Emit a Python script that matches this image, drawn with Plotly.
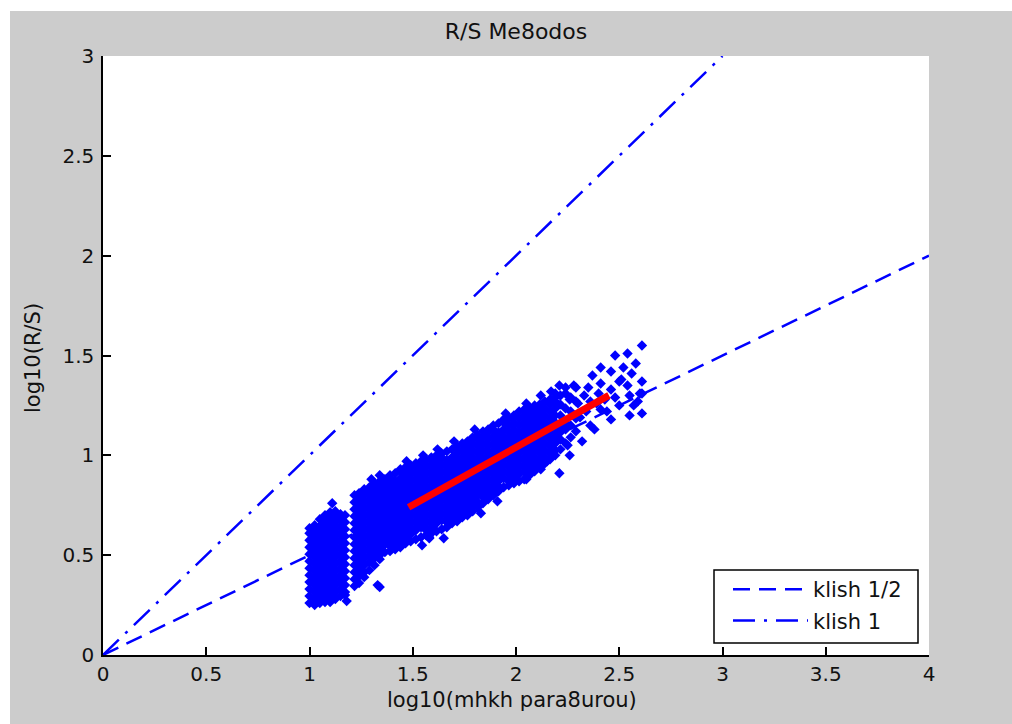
import plotly.graph_objects as go

# ---------------- data ----------------
title_text = "R/S Me8odos"
xlabel = "log10(mhkh para8urou)"
ylabel = "log10(R/S)"

x_ticks = [0, 0.5, 1, 1.5, 2, 2.5, 3, 3.5, 4]
y_ticks = [0, 0.5, 1, 1.5, 2, 2.5, 3]

# dense cloud of log10(R/S) values, grouped by log10(window length)
col_x = [1.000, 1.025, 1.050, 1.075, 1.100, 1.125, 1.150, 1.172,
         1.218, 1.240, 1.265, 1.290, 1.315, 1.340, 1.365, 1.390, 1.415, 1.440,
         1.465, 1.490, 1.515, 1.540, 1.565, 1.590, 1.615, 1.640, 1.665, 1.690,
         1.715, 1.740, 1.765, 1.790, 1.815, 1.840, 1.865, 1.890, 1.915, 1.940,
         1.965, 1.990, 2.015, 2.040, 2.065, 2.090, 2.115, 2.140, 2.165, 2.190,
         2.215, 2.240, 2.265, 2.290]
col_y = [
    [0.26, 0.295, 0.33, 0.365, 0.40, 0.435, 0.47, 0.505, 0.54, 0.575, 0.61, 0.635],
    [0.25, 0.28, 0.315, 0.35, 0.385, 0.42, 0.455, 0.49, 0.525, 0.56, 0.595, 0.63, 0.65],
    [0.26, 0.295, 0.33, 0.365, 0.40, 0.435, 0.47, 0.505, 0.54, 0.575, 0.61, 0.645, 0.68],
    [0.265, 0.28, 0.315, 0.35, 0.385, 0.42, 0.455, 0.49, 0.525, 0.56, 0.595, 0.63, 0.665, 0.70],
    [0.265, 0.295, 0.33, 0.365, 0.40, 0.435, 0.47, 0.505, 0.54, 0.575, 0.61, 0.645, 0.68, 0.715],
    [0.28, 0.315, 0.35, 0.385, 0.42, 0.455, 0.49, 0.525, 0.56, 0.595, 0.63, 0.665, 0.70, 0.72],
    [0.295, 0.33, 0.365, 0.40, 0.435, 0.47, 0.505, 0.54, 0.575, 0.61, 0.645, 0.68, 0.705],
    [0.30, 0.315, 0.35, 0.385, 0.42, 0.455, 0.49, 0.525, 0.56, 0.595, 0.63, 0.665, 0.70],
    [0.345, 0.38, 0.415, 0.45, 0.485, 0.52, 0.555, 0.59, 0.625, 0.66, 0.695, 0.73, 0.765, 0.80],
    [0.36, 0.395, 0.43, 0.465, 0.50, 0.535, 0.57, 0.605, 0.64, 0.675, 0.71, 0.745, 0.78, 0.81],
    [0.39, 0.415, 0.45, 0.485, 0.52, 0.555, 0.59, 0.625, 0.66, 0.695, 0.73, 0.765, 0.80, 0.83],
    [0.425, 0.465, 0.50, 0.535, 0.57, 0.605, 0.64, 0.675, 0.71, 0.745, 0.78, 0.815, 0.84],
    [0.45, 0.485, 0.52, 0.555, 0.59, 0.625, 0.66, 0.695, 0.73, 0.765, 0.80, 0.835, 0.86],
    [0.48, 0.50, 0.535, 0.57, 0.605, 0.64, 0.675, 0.71, 0.745, 0.78, 0.815, 0.85, 0.87],
    [0.515, 0.555, 0.59, 0.625, 0.66, 0.695, 0.73, 0.765, 0.80, 0.835, 0.87, 0.88],
    [0.52, 0.545, 0.57, 0.605, 0.64, 0.675, 0.71, 0.745, 0.78, 0.815, 0.85, 0.885, 0.90],
    [0.53, 0.555, 0.59, 0.625, 0.66, 0.695, 0.73, 0.765, 0.80, 0.835, 0.87, 0.91],
    [0.54, 0.57, 0.605, 0.64, 0.675, 0.71, 0.745, 0.78, 0.815, 0.85, 0.885, 0.92, 0.93],
    [0.56, 0.59, 0.625, 0.66, 0.695, 0.73, 0.765, 0.80, 0.835, 0.87, 0.905, 0.94],
    [0.57, 0.605, 0.64, 0.675, 0.71, 0.745, 0.78, 0.815, 0.85, 0.885, 0.92, 0.95],
    [0.58, 0.625, 0.66, 0.695, 0.73, 0.765, 0.80, 0.835, 0.87, 0.905, 0.94, 0.96],
    [0.59, 0.64, 0.675, 0.71, 0.745, 0.78, 0.815, 0.85, 0.885, 0.92, 0.955, 0.97],
    [0.60, 0.625, 0.66, 0.695, 0.73, 0.765, 0.80, 0.835, 0.87, 0.905, 0.94, 0.975],
    [0.61, 0.64, 0.675, 0.71, 0.745, 0.78, 0.815, 0.85, 0.885, 0.92, 0.955, 0.99],
    [0.62, 0.66, 0.695, 0.73, 0.765, 0.80, 0.835, 0.87, 0.905, 0.94, 0.975, 1.00],
    [0.63, 0.675, 0.71, 0.745, 0.78, 0.815, 0.85, 0.885, 0.92, 0.955, 0.99, 1.01],
    [0.64, 0.665, 0.695, 0.73, 0.765, 0.80, 0.835, 0.87, 0.905, 0.94, 0.975, 1.02],
    [0.66, 0.685, 0.71, 0.745, 0.78, 0.815, 0.85, 0.885, 0.92, 0.955, 0.99, 1.03],
    [0.67, 0.695, 0.73, 0.765, 0.80, 0.835, 0.87, 0.905, 0.94, 0.975, 1.01, 1.045],
    [0.69, 0.715, 0.745, 0.78, 0.815, 0.85, 0.885, 0.92, 0.955, 0.99, 1.025, 1.06],
    [0.70, 0.73, 0.765, 0.80, 0.835, 0.87, 0.905, 0.94, 0.975, 1.01, 1.045, 1.07],
    [0.72, 0.745, 0.78, 0.815, 0.85, 0.885, 0.92, 0.955, 0.99, 1.025, 1.06, 1.09],
    [0.74, 0.765, 0.80, 0.835, 0.87, 0.905, 0.94, 0.975, 1.01, 1.045, 1.08, 1.10],
    [0.76, 0.79, 0.815, 0.85, 0.885, 0.92, 0.955, 0.99, 1.025, 1.06, 1.095, 1.12],
    [0.78, 0.805, 0.835, 0.87, 0.905, 0.94, 0.975, 1.01, 1.045, 1.08, 1.115, 1.13],
    [0.80, 0.825, 0.85, 0.885, 0.92, 0.955, 0.99, 1.025, 1.06, 1.095, 1.13, 1.15],
    [0.82, 0.845, 0.87, 0.905, 0.94, 0.975, 1.01, 1.045, 1.08, 1.115, 1.16],
    [0.84, 0.885, 0.92, 0.955, 0.99, 1.025, 1.06, 1.095, 1.13, 1.165, 1.18],
    [0.85, 0.87, 0.905, 0.94, 0.975, 1.01, 1.045, 1.08, 1.115, 1.15, 1.185],
    [0.86, 0.885, 0.92, 0.955, 0.99, 1.025, 1.06, 1.095, 1.13, 1.165, 1.20],
    [0.87, 0.905, 0.94, 0.975, 1.01, 1.045, 1.08, 1.115, 1.15, 1.185, 1.22],
    [0.88, 0.92, 0.955, 0.99, 1.025, 1.06, 1.095, 1.13, 1.165, 1.20, 1.23],
    [0.90, 0.94, 0.975, 1.01, 1.045, 1.08, 1.115, 1.15, 1.185, 1.22, 1.24],
    [0.92, 0.955, 0.99, 1.025, 1.06, 1.095, 1.13, 1.165, 1.20, 1.235, 1.25],
    [0.94, 0.975, 1.01, 1.045, 1.08, 1.115, 1.15, 1.185, 1.22, 1.255],
    [0.96, 0.99, 1.025, 1.06, 1.095, 1.13, 1.165, 1.20, 1.235, 1.27],
    [0.98, 1.01, 1.045, 1.08, 1.115, 1.15, 1.185, 1.22, 1.255, 1.28],
    [1.00, 1.025, 1.06, 1.095, 1.13, 1.165, 1.20, 1.235, 1.27, 1.29],
    [1.03, 1.08, 1.115, 1.15, 1.20, 1.255, 1.30],
    [1.06, 1.13, 1.165, 1.235, 1.31],
    [1.09, 1.15, 1.22, 1.29],
    [1.12, 1.185, 1.27],
]

# scattered individual points (outliers and sparse tail)
extra_x = [1.11, 1.18, 1.33, 1.34, 1.545, 1.58, 1.65, 1.58, 1.83, 1.91, 2.05, 2.12, 2.15,
           1.34, 1.30, 1.47, 1.55, 1.62, 1.70, 1.80, 1.95, 2.05,
           2.21, 2.26, 2.25, 2.32, 2.36, 2.31, 2.38, 2.41, 2.46, 2.50, 2.43, 2.46,
           2.55, 2.51, 2.54, 2.61, 2.61, 2.57, 2.61, 2.58, 2.61, 2.54, 2.48, 2.46,
           2.41, 2.37, 2.33, 2.29, 2.28, 2.35, 2.41, 2.50, 2.60, 2.21, 2.19, 2.26,
           2.39, 2.44, 2.34, 2.30, 2.52, 2.56, 2.40, 2.48, 2.36, 2.24, 2.17, 2.12,
           2.55, 2.59]
extra_y = [0.76, 0.27, 0.35, 0.34, 0.55, 0.585, 0.585, 0.59, 0.71, 0.77, 0.88, 0.93, 0.97,
           0.90, 0.88, 0.97, 1.00, 1.03, 1.07, 1.13, 1.21, 1.26,
           0.91, 1.00, 1.05, 1.07, 1.15, 1.19, 1.13, 1.23, 1.18, 1.25, 1.28, 1.33,
           1.30, 1.38, 1.35, 1.31, 1.21, 1.25, 1.37, 1.46, 1.55, 1.51, 1.50, 1.42,
           1.44, 1.40, 1.30, 1.34, 1.35, 1.34, 1.36, 1.37, 1.31, 1.35, 1.31, 1.28,
           1.26, 1.22, 1.22, 1.26, 1.44, 1.41, 1.31, 1.29, 1.27, 1.34, 1.32, 1.30,
           1.20, 1.27]

# least-squares fit segment
fit_x = [1.48, 2.45]
fit_y = [0.74, 1.30]

# reference slopes
half_x = [0, 4]
half_y = [0, 2]
one_x = [0, 3]
one_y = [0, 3]

# ---------------- figure ----------------
pts_x, pts_y = [], []
for cx, ys in zip(col_x, col_y):
    for yv in ys:
        pts_x.append(cx)
        pts_y.append(yv)
pts_x += extra_x
pts_y += extra_y

BLUE = "#0000ff"
FONT = "DejaVu Sans"

fig = go.Figure()
fig.add_trace(go.Scatter(x=half_x, y=half_y, mode="lines", name="klish 1/2",
                         legendgroup="a",
                         line=dict(color=BLUE, width=2.5, dash="17px,9px")))
fig.add_trace(go.Scatter(x=one_x, y=one_y, mode="lines", name="klish 1",
                         legendgroup="b",
                         line=dict(color=BLUE, width=2.5, dash="22px,9px,3px,9px")))
fig.add_trace(go.Scatter(x=pts_x, y=pts_y, mode="markers",
                         marker=dict(symbol="diamond", size=8, color=BLUE, line=dict(width=0)),
                         showlegend=False))
fig.add_trace(go.Scatter(x=fit_x, y=fit_y, mode="lines",
                         line=dict(color="#ff0000", width=7), showlegend=False))

W, H = 1012, 724
L, R, T, B = 103, 929, 56, 655

def px2paper_x(px):
    return (px - L) / (R - L)

def px2paper_y(py):
    return (B - py) / (B - T)

axis_common = dict(showgrid=False, zeroline=False, showline=True, linecolor="black",
                   linewidth=1.5, ticks="inside", ticklen=8, tickcolor="black",
                   tickwidth=1.5, mirror=False,
                   tickfont=dict(family=FONT, size=20, color="#111111"))

fig.update_layout(
    width=W, height=H,
    margin=dict(l=L, r=W - R, t=T, b=H - B, pad=0),
    paper_bgcolor="#cccccc",
    plot_bgcolor="white",
    title=dict(text=title_text, x=0.5, xref="paper", xanchor="center",
               y=1 - 31 / H, yanchor="middle",
               font=dict(family=FONT, size=22, color="#111111")),
    xaxis=dict(range=[0, 4], tickvals=x_ticks, ticklabelstandoff=0, **axis_common),
    yaxis=dict(range=[0, 3], tickvals=y_ticks, ticklabelstandoff=3, **axis_common),
    legend=dict(x=px2paper_x(728), y=px2paper_y(569), xanchor="left", yanchor="top",
                bgcolor="rgba(0,0,0,0)", borderwidth=0,
                font=dict(family=FONT, size=21, color="#111111"),
                traceorder="grouped", tracegroupgap=1, itemwidth=75),
    annotations=[
        dict(text=xlabel, xref="paper", yref="paper", x=px2paper_x(512), y=px2paper_y(700),
             xanchor="center", yanchor="middle", showarrow=False,
             font=dict(family=FONT, size=21, color="#111111")),
        dict(text=ylabel, xref="paper", yref="paper", x=px2paper_x(33), y=px2paper_y(358),
             xanchor="center", yanchor="middle", showarrow=False, textangle=-90,
             font=dict(family=FONT, size=21, color="#111111")),
    ],
    shapes=[
        dict(type="rect", xref="paper", yref="paper", layer="below",
             x0=-0.3, x1=1.3, y0=px2paper_y(11), y1=px2paper_y(-20),
             fillcolor="white", line=dict(width=0)),
        dict(type="rect", xref="paper", yref="paper", layer="below",
             x0=px2paper_x(-20), x1=px2paper_x(10), y0=-0.3, y1=1.3,
             fillcolor="white", line=dict(width=0)),
        dict(type="rect", xref="paper", yref="paper", layer="above",
             x0=px2paper_x(714), x1=px2paper_x(918), y0=px2paper_y(643), y1=px2paper_y(570),
             fillcolor="white", line=dict(color="black", width=1.5)),
    ],
)

fig.write_html("out.html")
